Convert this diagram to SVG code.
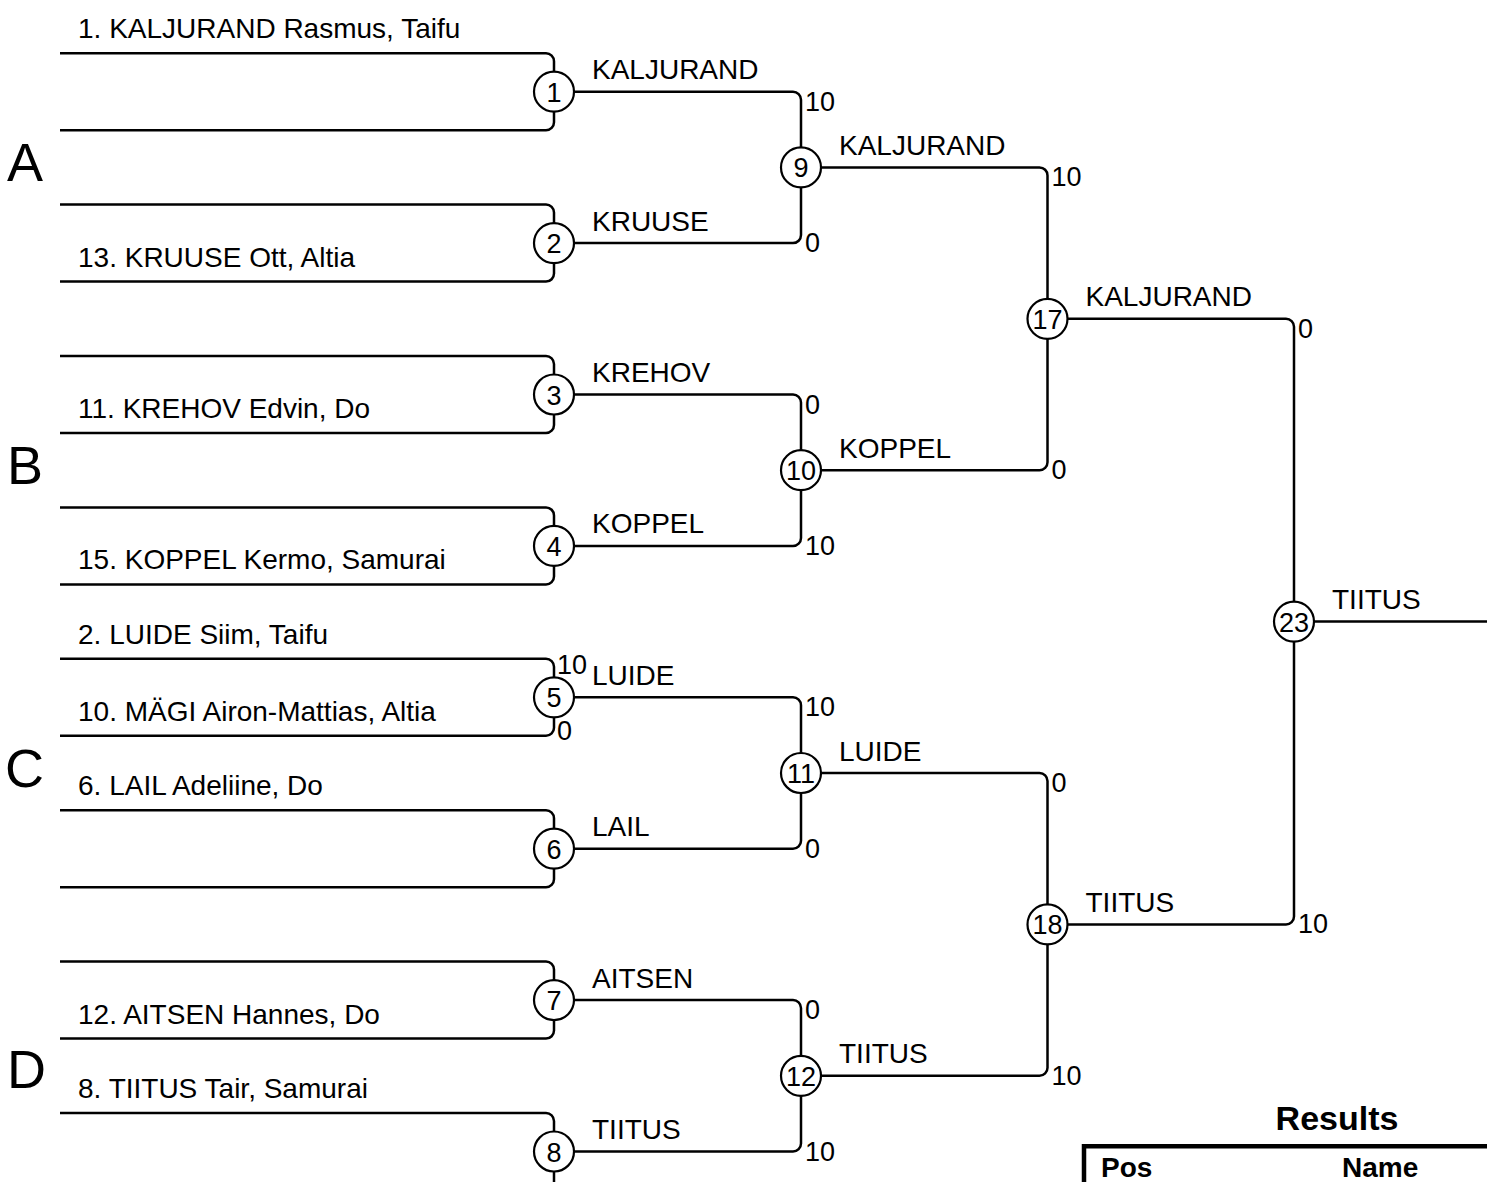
<svg xmlns="http://www.w3.org/2000/svg" width="1487" height="1182" viewBox="0 0 1487 1182">
<style>
text{font-family:"Liberation Sans",Arial,sans-serif;fill:#000}
.nm{font-size:28px}
.lb{font-size:28px}
.sc{font-size:27px}
.num{font-size:27px;text-anchor:middle}
.grp{font-size:54px}
.ln{fill:none;stroke:#000;stroke-width:2.5}
.cir{fill:#fff;stroke:#000;stroke-width:2.2}
.bold{font-weight:bold}
</style>
<rect width="1487" height="1182" fill="#fff"/>
<g id="connectors" class="ln">
<path d="M60,53.2H546A8,8 0 0 1 554,61.2V71.7M60,130.2H546A8,8 0 0 0 554,122.2V111.7"/>
<path d="M60,204.6H546A8,8 0 0 1 554,212.6V223.1M60,281.6H546A8,8 0 0 0 554,273.6V263.1"/>
<path d="M60,356H546A8,8 0 0 1 554,364V374.5M60,433H546A8,8 0 0 0 554,425V414.5"/>
<path d="M60,507.4H546A8,8 0 0 1 554,515.4V525.9M60,584.4H546A8,8 0 0 0 554,576.4V565.9"/>
<path d="M60,658.8H546A8,8 0 0 1 554,666.8V677.3M60,735.8H546A8,8 0 0 0 554,727.8V717.3"/>
<path d="M60,810.2H546A8,8 0 0 1 554,818.2V828.7M60,887.2H546A8,8 0 0 0 554,879.2V868.7"/>
<path d="M60,961.6H546A8,8 0 0 1 554,969.6V980.1M60,1038.6H546A8,8 0 0 0 554,1030.6V1020.1"/>
<path d="M60,1113H546A8,8 0 0 1 554,1121V1131.5M60,1190H546A8,8 0 0 0 554,1182V1171.5"/>
<path d="M574,91.7H793A8,8 0 0 1 801,99.7V147.4M574,243.1H793A8,8 0 0 0 801,235.1V187.4"/>
<path d="M574,394.5H793A8,8 0 0 1 801,402.5V450.2M574,545.9H793A8,8 0 0 0 801,537.9V490.2"/>
<path d="M574,697.3H793A8,8 0 0 1 801,705.3V753M574,848.7H793A8,8 0 0 0 801,840.7V793"/>
<path d="M574,1000.1H793A8,8 0 0 1 801,1008.1V1055.8M574,1151.5H793A8,8 0 0 0 801,1143.5V1095.8"/>
<path d="M821,167.4H1039.5A8,8 0 0 1 1047.5,175.4V298.8M821,470.2H1039.5A8,8 0 0 0 1047.5,462.2V338.8"/>
<path d="M821,773H1039.5A8,8 0 0 1 1047.5,781V904.4M821,1075.8H1039.5A8,8 0 0 0 1047.5,1067.8V944.4"/>
<path d="M1067.5,318.8H1286A8,8 0 0 1 1294,326.8V601.6M1067.5,924.4H1286A8,8 0 0 0 1294,916.4V641.6"/>
<path d="M1314,621.6H1487"/>
</g>
<g id="scores" class="sc">
<text x="557" y="674">10</text><text x="557" y="740">0</text>
<text x="805" y="110.7">10</text><text x="805" y="252.1">0</text>
<text x="805" y="413.5">0</text><text x="805" y="554.9">10</text>
<text x="805" y="716.3">10</text><text x="805" y="857.7">0</text>
<text x="805" y="1019.1">0</text><text x="805" y="1160.5">10</text>
<text x="1051.5" y="186.4">10</text><text x="1051.5" y="479.2">0</text>
<text x="1051.5" y="792">0</text><text x="1051.5" y="1084.8">10</text>
<text x="1298" y="337.8">0</text><text x="1298" y="933.4">10</text>
</g>
<g id="entries" class="nm">
<text x="78" y="38.2">1. KALJURAND Rasmus, Taifu</text>
<text x="78" y="266.6">13. KRUUSE Ott, Altia</text>
<text x="78" y="418">11. KREHOV Edvin, Do</text>
<text x="78" y="569.4">15. KOPPEL Kermo, Samurai</text>
<text x="78" y="643.8">2. LUIDE Siim, Taifu</text>
<text x="78" y="720.8">10. MÄGI Airon-Mattias, Altia</text>
<text x="78" y="795.2">6. LAIL Adeliine, Do</text>
<text x="78" y="1023.6">12. AITSEN Hannes, Do</text>
<text x="78" y="1098">8. TIITUS Tair, Samurai</text>
</g>
<g id="groups" class="grp">
<text x="7" y="181">A</text>
<text x="7" y="484">B</text>
<text x="5" y="787">C</text>
<text x="7" y="1088">D</text>
</g>
<g id="m1"><circle class="cir" cx="554" cy="91.7" r="20"/><text class="num" x="554" y="101.7">1</text><text class="lb" x="592" y="79.2">KALJURAND</text></g>
<g id="m2"><circle class="cir" cx="554" cy="243.1" r="20"/><text class="num" x="554" y="253.1">2</text><text class="lb" x="592" y="230.6">KRUUSE</text></g>
<g id="m3"><circle class="cir" cx="554" cy="394.5" r="20"/><text class="num" x="554" y="404.5">3</text><text class="lb" x="592" y="382">KREHOV</text></g>
<g id="m4"><circle class="cir" cx="554" cy="545.9" r="20"/><text class="num" x="554" y="555.9">4</text><text class="lb" x="592" y="533.4">KOPPEL</text></g>
<g id="m5"><circle class="cir" cx="554" cy="697.3" r="20"/><text class="num" x="554" y="707.3">5</text><text class="lb" x="592" y="684.8">LUIDE</text></g>
<g id="m6"><circle class="cir" cx="554" cy="848.7" r="20"/><text class="num" x="554" y="858.7">6</text><text class="lb" x="592" y="836.2">LAIL</text></g>
<g id="m7"><circle class="cir" cx="554" cy="1000.1" r="20"/><text class="num" x="554" y="1010.1">7</text><text class="lb" x="592" y="987.6">AITSEN</text></g>
<g id="m8"><circle class="cir" cx="554" cy="1151.5" r="20"/><text class="num" x="554" y="1161.5">8</text><text class="lb" x="592" y="1139">TIITUS</text></g>
<g id="m9"><circle class="cir" cx="801" cy="167.4" r="20"/><text class="num" x="801" y="177.4">9</text><text class="lb" x="839" y="154.9">KALJURAND</text></g>
<g id="m10"><circle class="cir" cx="801" cy="470.2" r="20"/><text class="num" x="801" y="480.2">10</text><text class="lb" x="839" y="457.7">KOPPEL</text></g>
<g id="m11"><circle class="cir" cx="801" cy="773" r="20"/><text class="num" x="801" y="783">11</text><text class="lb" x="839" y="760.5">LUIDE</text></g>
<g id="m12"><circle class="cir" cx="801" cy="1075.8" r="20"/><text class="num" x="801" y="1085.8">12</text><text class="lb" x="839" y="1063.3">TIITUS</text></g>
<g id="m17"><circle class="cir" cx="1047.5" cy="318.8" r="20"/><text class="num" x="1047.5" y="328.8">17</text><text class="lb" x="1085.5" y="306.3">KALJURAND</text></g>
<g id="m18"><circle class="cir" cx="1047.5" cy="924.4" r="20"/><text class="num" x="1047.5" y="934.4">18</text><text class="lb" x="1085.5" y="911.9">TIITUS</text></g>
<g id="m23"><circle class="cir" cx="1294" cy="621.6" r="20"/><text class="num" x="1294" y="631.6">23</text><text class="lb" x="1332" y="609.1">TIITUS</text></g>
<g id="results">
<text class="bold" x="1337" y="1130" font-size="34" text-anchor="middle">Results</text>
<path d="M1084,1182V1146.3H1487" fill="none" stroke="#000" stroke-width="4.5"/>
<text class="bold" x="1101" y="1177" font-size="28">Pos</text>
<text class="bold" x="1342" y="1177" font-size="28">Name</text>
</g>
</svg>
